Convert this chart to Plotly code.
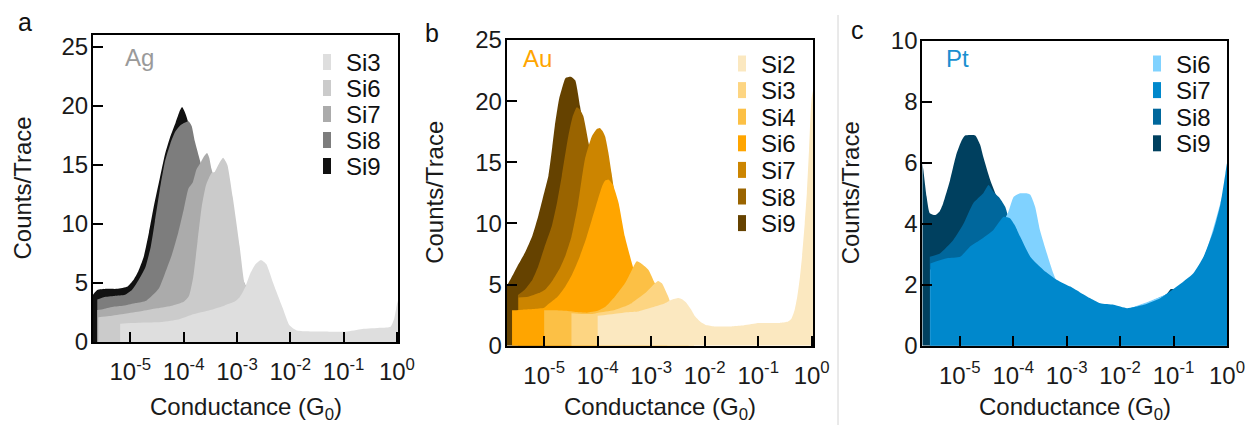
import plotly.graph_objects as go

W, H = 1245, 425
FONT = "Liberation Sans, Arial, sans-serif"
FS = 24

# ---------------- data (log10 of conductance / counts per trace) ----------------
# Panel a: Ag
ag_si9_logg = [-5.70, -5.62, -5.45, -5.25, -5.05, -4.95, -4.85, -4.75, -4.65, -4.55, -4.45, -4.35, -4.25, -4.15, -4.07, -4.03, -3.98, -3.90, -3.80, -3.65, -3.45, -3.20, -2.90, -2.40]
ag_si9_cnt = [4.0, 4.4, 4.5, 4.5, 4.7, 5.2, 6.0, 7.2, 9.3, 11.7, 13.8, 15.9, 17.4, 18.6, 19.6, 19.9, 19.5, 18.4, 16.0, 12.0, 7.5, 4.5, 3.0, 2.0]
ag_si8_logg = [-5.62, -5.50, -5.30, -5.10, -4.97, -4.85, -4.72, -4.62, -4.54, -4.45, -4.35, -4.25, -4.16, -4.05, -3.91, -3.85, -3.79, -3.69, -3.55, -3.40, -3.20, -2.90, -2.40]
ag_si8_cnt = [3.6, 3.8, 3.9, 4.0, 4.4, 5.2, 6.3, 8.0, 10.2, 12.8, 15.3, 16.8, 17.8, 18.4, 18.7, 18.3, 17.0, 15.3, 12.5, 9.0, 5.5, 3.5, 2.0]
ag_si7_logg = [-5.62, -5.50, -5.30, -5.10, -4.90, -4.70, -4.47, -4.35, -4.22, -4.10, -4.00, -3.91, -3.83, -3.76, -3.68, -3.62, -3.56, -3.52, -3.48, -3.40, -3.25, -3.05, -2.80, -2.40]
ag_si7_cnt = [2.7, 2.8, 3.0, 3.1, 3.3, 3.5, 4.5, 5.8, 7.4, 9.3, 11.2, 13.0, 13.5, 14.6, 15.2, 15.7, 16.0, 15.6, 14.7, 13.5, 10.5, 7.0, 4.5, 2.2]
ag_si6_logg = [-5.60, -5.40, -5.10, -4.80, -4.50, -4.20, -4.00, -3.90, -3.82, -3.74, -3.66, -3.58, -3.48, -3.42, -3.35, -3.26, -3.18, -3.08, -2.95, -2.86, -2.75, -2.40]
ag_si6_cnt = [2.1, 2.2, 2.4, 2.6, 2.85, 3.1, 3.4, 3.9, 5.5, 8.5, 11.5, 13.3, 14.3, 14.4, 15.0, 15.6, 15.0, 12.3, 8.1, 5.0, 3.8, 2.2]
ag_si3_logg = [-5.19, -5.00, -4.70, -4.40, -4.10, -3.85, -3.50, -3.23, -3.05, -2.95, -2.85, -2.75, -2.65, -2.55, -2.45, -2.33, -2.23, -2.14, -2.02, -1.89, -1.70, -1.27, -0.96, -0.65, -0.30, -0.12, -0.05, 0.00, 0.02]
ag_si3_cnt = [1.55, 1.6, 1.65, 1.7, 1.9, 2.3, 2.7, 3.1, 3.4, 3.8, 4.6, 5.8, 6.6, 6.95, 6.6, 5.1, 3.9, 2.85, 1.44, 1.0, 0.9, 0.87, 0.87, 1.1, 1.2, 1.3, 2.0, 3.2, 3.5]

# Panel b: Au
au_si9_logg = [-5.70, -5.62, -5.50, -5.36, -5.22, -5.11, -5.00, -4.92, -4.85, -4.80, -4.72, -4.67, -4.60, -4.50, -4.42, -4.33, -4.22, -4.10, -3.95, -3.80, -3.60, -3.30, -2.90]
au_si9_cnt = [4.9, 5.5, 6.5, 7.6, 9.0, 10.6, 12.5, 13.9, 16.2, 18.0, 20.2, 21.0, 21.9, 22.0, 21.7, 19.6, 16.5, 13.0, 9.5, 7.0, 5.0, 3.5, 2.5]
au_si8_logg = [-5.49, -5.36, -5.22, -5.11, -5.00, -4.86, -4.76, -4.67, -4.55, -4.47, -4.39, -4.33, -4.27, -4.17, -4.05, -3.90, -3.70, -3.45, -3.10, -2.80]
au_si8_cnt = [4.15, 4.6, 5.4, 6.5, 8.0, 9.75, 11.7, 13.9, 17.1, 18.7, 19.5, 19.3, 18.8, 16.6, 13.5, 10.0, 7.0, 4.8, 3.2, 2.5]
au_si7_logg = [-5.48, -5.30, -5.10, -4.98, -4.85, -4.70, -4.60, -4.49, -4.37, -4.24, -4.11, -4.02, -3.96, -3.90, -3.86, -3.80, -3.74, -3.65, -3.50, -3.30, -3.00, -2.70]
au_si7_cnt = [3.95, 4.0, 4.3, 4.6, 5.3, 6.4, 7.4, 8.9, 11.5, 15.2, 17.1, 17.7, 17.8, 17.5, 17.1, 15.8, 14.1, 11.5, 8.0, 5.2, 3.3, 2.5]
au_si6_logg = [-5.60, -5.40, -5.20, -5.00, -4.92, -4.75, -4.61, -4.48, -4.36, -4.22, -4.11, -4.00, -3.92, -3.86, -3.80, -3.72, -3.61, -3.49, -3.36, -3.20, -3.00, -2.70]
au_si6_cnt = [2.9, 2.95, 3.0, 3.1, 3.4, 4.0, 4.8, 5.8, 7.0, 8.7, 10.3, 11.9, 13.0, 13.5, 13.6, 13.2, 11.7, 8.9, 6.75, 4.5, 3.3, 2.6]
au_si4_logg = [-5.00, -4.80, -4.60, -4.40, -4.20, -4.00, -3.85, -3.68, -3.49, -3.36, -3.27, -3.18, -3.05, -2.93, -2.80, -2.60, -2.30]
au_si4_cnt = [2.9, 2.9, 2.85, 2.75, 2.7, 2.85, 3.2, 4.0, 5.1, 6.2, 6.9, 6.7, 6.2, 5.1, 4.0, 3.0, 2.3]
au_si3_logg = [-4.49, -4.30, -4.10, -3.99, -3.70, -3.50, -3.36, -3.11, -2.93, -2.87, -2.80, -2.68, -2.62, -2.50, -2.20]
au_si3_cnt = [2.65, 2.6, 2.6, 2.7, 2.9, 3.2, 3.5, 4.3, 5.1, 5.3, 5.1, 4.0, 3.3, 2.8, 2.0]
au_si2_logg = [-4.00, -3.70, -3.40, -3.24, -2.93, -2.75, -2.62, -2.49, -2.42, -2.34, -2.26, -2.18, -2.08, -1.99, -1.85, -1.70, -1.50, -1.30, -1.03, -0.80, -0.60, -0.45, -0.38, -0.32, -0.27, -0.22, -0.18, -0.13, -0.09, -0.05, -0.02, 0.00, 0.03]
au_si2_cnt = [2.45, 2.6, 2.75, 2.8, 3.2, 3.45, 3.75, 3.9, 3.8, 3.5, 3.0, 2.4, 1.95, 1.72, 1.6, 1.56, 1.58, 1.65, 1.84, 1.85, 1.86, 1.95, 2.2, 2.9, 4.0, 5.6, 7.3, 10.0, 12.5, 16.0, 19.0, 20.3, 21.0]

# Panel c: Pt
pt_si9_logg = [-5.70, -5.68, -5.62, -5.56, -5.46, -5.38, -5.31, -5.18, -5.06, -4.96, -4.90, -4.71, -4.62, -4.56, -4.43, -4.31, -4.15, -4.00, -3.70, -3.40, -3.00, -2.50, -2.00, -1.50, -1.15, -1.05, -0.95, -0.60, -0.25, 0.00]
pt_si9_cnt = [6.0, 5.77, 4.9, 4.35, 4.29, 4.4, 4.67, 5.44, 6.3, 6.75, 6.9, 6.9, 6.6, 6.2, 5.44, 4.9, 4.3, 3.8, 2.8, 2.3, 1.8, 1.4, 1.15, 1.3, 1.65, 1.86, 1.85, 2.3, 3.7, 5.5]
pt_si8_logg = [-5.56, -5.37, -5.12, -4.93, -4.75, -4.56, -4.46, -4.37, -4.25, -4.15, -4.09, -3.95, -3.70, -3.40, -3.00, -2.50, -2.00, -1.50, -1.00, -0.60, -0.25, 0.00]
pt_si8_cnt = [2.92, 3.03, 3.47, 4.0, 4.67, 5.0, 5.27, 5.05, 4.84, 4.56, 4.23, 3.6, 2.85, 2.35, 1.85, 1.4, 1.15, 1.4, 1.8, 2.3, 3.7, 5.5]
pt_si6_logg = [-5.55, -5.00, -4.60, -4.30, -4.09, -3.99, -3.87, -3.75, -3.68, -3.59, -3.50, -3.37, -3.25, -3.15, -2.90, -2.50, -2.00, -1.00, -0.50, 0.00]
pt_si6_cnt = [2.5, 2.7, 3.2, 3.7, 4.4, 4.89, 5.0, 5.0, 4.95, 4.56, 3.8, 3.03, 2.38, 2.0, 1.8, 1.4, 1.15, 1.8, 2.6, 5.5]
pt_si7_logg = [-5.55, -5.24, -4.99, -4.81, -4.62, -4.37, -4.18, -4.06, -3.97, -3.87, -3.68, -3.43, -3.18, -2.93, -2.75, -2.55, -2.37, -2.12, -1.87, -1.56, -1.25, -0.94, -0.63, -0.44, -0.25, -0.12, -0.03, 0.00, 0.02]
pt_si7_cnt = [2.7, 2.87, 2.92, 3.25, 3.47, 3.8, 4.23, 4.18, 3.95, 3.58, 2.92, 2.48, 2.16, 1.94, 1.75, 1.55, 1.39, 1.34, 1.23, 1.34, 1.56, 1.94, 2.38, 2.92, 3.8, 4.67, 5.66, 6.0, 6.1]

# series per panel, drawn back-to-front; legend order separately
panels = [
    dict(metal="Ag", metal_color="#9a9a9a", letter="a", yrange=[0, 26], ytick=[0, 5, 10, 15, 20, 25],
         series=[("Si9", ag_si9_logg, ag_si9_cnt, "#111111"),
                 ("Si8", ag_si8_logg, ag_si8_cnt, "#7d7d7d"),
                 ("Si7", ag_si7_logg, ag_si7_cnt, "#ababab"),
                 ("Si6", ag_si6_logg, ag_si6_cnt, "#cbcbcb"),
                 ("Si3", ag_si3_logg, ag_si3_cnt, "#dedede")],
         legend=["Si3", "Si6", "Si7", "Si8", "Si9"]),
    dict(metal="Au", metal_color="#ffa500", letter="b", yrange=[0, 25], ytick=[0, 5, 10, 15, 20, 25],
         series=[("Si9", au_si9_logg, au_si9_cnt, "#654200"),
                 ("Si8", au_si8_logg, au_si8_cnt, "#9a6400"),
                 ("Si7", au_si7_logg, au_si7_cnt, "#cc8500"),
                 ("Si6", au_si6_logg, au_si6_cnt, "#ffa500"),
                 ("Si4", au_si4_logg, au_si4_cnt, "#fcc045"),
                 ("Si3", au_si3_logg, au_si3_cnt, "#fdd582"),
                 ("Si2", au_si2_logg, au_si2_cnt, "#fbe8c0")],
         legend=["Si2", "Si3", "Si4", "Si6", "Si7", "Si8", "Si9"]),
    dict(metal="Pt", metal_color="#1a8fd0", letter="c", yrange=[0, 10], ytick=[0, 2, 4, 6, 8, 10],
         series=[("Si9", pt_si9_logg, pt_si9_cnt, "#00405f"),
                 ("Si8", pt_si8_logg, pt_si8_cnt, "#00679c"),
                 ("Si6", pt_si6_logg, pt_si6_cnt, "#80d2ff"),
                 ("Si7", pt_si7_logg, pt_si7_cnt, "#0088cc")],
         legend=["Si6", "Si7", "Si8", "Si9"]),
]

xtick_exp = [-5, -4, -3, -2, -1, 0]

# ---------------- layout geometry (pixels) ----------------
boxes = [  # left, right, top, bottom
    (93.0, 398.0, 35.0, 342.0),
    (506.7, 813.3, 40.0, 345.7),
    (922.3, 1227.3, 41.0, 345.7),
]
xranges = [[-5.7, 0.02], [-5.7, 0.03], [-5.7, 0.005]]
legend_geo = [  # marker left x, text x, first row y, row spacing
    (323, 345, 62, 26.0),
    (738, 760, 63.5, 26.6),
    (1153, 1175, 63.5, 26.6),
]
metal_pos = [(139, 57), (537, 59), (957, 58)]
letter_pos = [(25, 22), (432, 33), (857, 30)]
ytitle_x = [22, 435, 850]


def fx(px):
    return px / W


def fy(py):
    return 1 - py / H


fig = go.Figure()
shapes = []
annotations = []

for i, p in enumerate(panels):
    n = "" if i == 0 else str(i + 1)
    xa, ya = "x" + n, "y" + n
    color_of = {}
    for name, lg, cnt, col in p["series"]:
        color_of[name] = col
        fig.add_trace(go.Scatter(
            x=[10 ** v for v in lg], y=cnt, mode="lines", fill="tozeroy",
            line=dict(width=0, shape="spline", smoothing=0.5, color=col),
            fillcolor=col, name=name, xaxis=xa, yaxis=ya, hoverinfo="skip",
            showlegend=False))
    l, r, t, b = boxes[i]
    axis_common = dict(showline=True, linewidth=2, linecolor="black", mirror=True,
                       ticks="inside", ticklen=10, tickwidth=2, tickcolor="black",
                       showgrid=False, zeroline=False, automargin=False,
                       ticklabeloverflow="allow",
                       tickfont=dict(family=FONT, size=FS, color="#1a1a1a"))
    fig.layout["xaxis" + n] = dict(
        domain=[fx(l), fx(r)], anchor=ya, type="log", range=xranges[i],
        tickvals=[10 ** e for e in xtick_exp],
        ticktext=["10<sup>%d</sup>" % e for e in xtick_exp],
        ticklabelstandoff=7, **axis_common)
    fig.layout["yaxis" + n] = dict(
        domain=[fy(b), fy(t)], anchor=xa, range=p["yrange"],
        tickvals=p["ytick"], ticktext=[str(v) for v in p["ytick"]],
        ticklabelstandoff=-2, **axis_common)

    # legend (custom)
    mx, tx, y0, dy = legend_geo[i]
    for k, name in enumerate(p["legend"]):
        yc = y0 + k * dy
        shapes.append(dict(type="rect", xref="paper", yref="paper",
                           x0=fx(mx), x1=fx(mx + 8), y0=fy(yc + 8), y1=fy(yc - 8),
                           fillcolor=color_of[name], line=dict(width=0)))
        annotations.append(dict(text=name, xref="paper", yref="paper", x=fx(tx), y=fy(yc),
                                xanchor="left", yanchor="middle", showarrow=False,
                                height=22, valign="middle", borderpad=0,
                                font=dict(family=FONT, size=FS, color="#111111")))
    # metal label
    mxp, myp = metal_pos[i]
    annotations.append(dict(text=p["metal"], xref="paper", yref="paper", x=fx(mxp), y=fy(myp),
                            xanchor="center", yanchor="middle", showarrow=False,
                            font=dict(family=FONT, size=FS, color=p["metal_color"])))
    # panel letter
    lx, ly = letter_pos[i]
    annotations.append(dict(text=p["letter"], xref="paper", yref="paper", x=fx(lx), y=fy(ly),
                            xanchor="center", yanchor="middle", showarrow=False,
                            font=dict(family=FONT, size=FS + 1, color="#111111")))
    # axis titles
    annotations.append(dict(text="Conductance (G<sub>0</sub>)", xref="paper", yref="paper",
                            x=fx((l + r) / 2), y=fy(408), xanchor="center", yanchor="middle",
                            showarrow=False, font=dict(family=FONT, size=FS, color="#1a1a1a")))
    annotations.append(dict(text="Counts/Trace", xref="paper", yref="paper",
                            x=fx(ytitle_x[i]), y=fy((t + b) / 2), xanchor="center", yanchor="middle",
                            textangle=-90, showarrow=False,
                            font=dict(family=FONT, size=FS, color="#1a1a1a")))

# thin separator line between panels b and c
shapes.append(dict(type="line", xref="paper", yref="paper", x0=fx(838), x1=fx(838),
                   y0=fy(15), y1=0, line=dict(color="#d4d4d4", width=1)))

fig.update_layout(width=W, height=H, margin=dict(l=0, r=0, t=0, b=0, autoexpand=False), autosize=False,
                  paper_bgcolor="white", plot_bgcolor="white", showlegend=False,
                  shapes=shapes, annotations=annotations)

js = r"""
document.documentElement.style.overflow='hidden';
document.body.style.margin='0px';document.body.style.overflow='hidden';
var gd=document.getElementsByClassName('plotly-graph-div')[0];
function fixsize(){var fl=gd._fullLayout; if(fl && (fl.width!==1245 || fl.height!==425)){Plotly.relayout(gd,{width:1245,height:425,autosize:false});}}
fixsize(); setTimeout(fixsize,50); setTimeout(fixsize,200);
"""
fig.write_html("out.html", config={"displayModeBar": False, "responsive": False}, post_script=js)
